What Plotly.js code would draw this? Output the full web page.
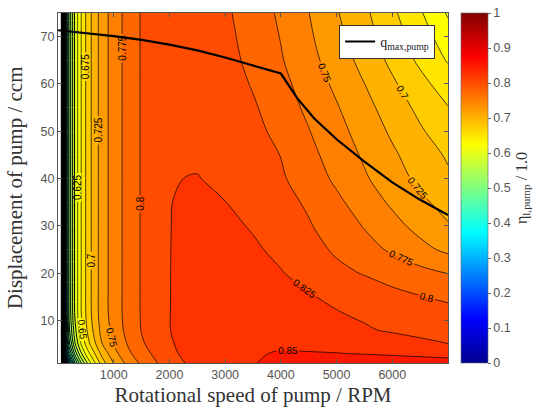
<!DOCTYPE html>
<html><head><meta charset="utf-8">
<script src="https://cdn.plot.ly/plotly-3.0.1.min.js"></script>
<style>html,body{margin:0;padding:0;background:#fff}#chart{width:544px;height:412px}</style>
</head><body><div id="chart"></div>
<script>
// Rotational speed of pump (RPM) grid
const speedRPM = [50, 100, 150, 200, 300, 400, 500, 600, 800, 1000, 1200, 1500,
                  2000, 2500, 3000, 3500, 4000, 4500, 5000, 5500, 6000, 6500, 7000];
// Displacement of pump (ccm) grid
const displacementCcm = [1, 3, 5, 8, 12, 16, 20, 25, 30, 35, 40, 45, 50, 55, 60, 65, 70, 75];
// Pump efficiency, one row per displacement value
const effY1  = [0.00, 0.12, 0.252, 0.352, 0.47, 0.54, 0.59, 0.63, 0.69, 0.726, 0.751, 0.78, 0.815, 0.833, 0.842, 0.8495, 0.853, 0.856, 0.857, 0.8565, 0.856, 0.855, 0.854];
const effY3  = [0.00, 0.202, 0.352, 0.44, 0.53, 0.59, 0.63, 0.66, 0.71, 0.74, 0.765, 0.79, 0.820, 0.836, 0.844, 0.8485, 0.8512, 0.8508, 0.8503, 0.8495, 0.8485, 0.8475, 0.8465];
const effY5  = [0.00, 0.26, 0.41, 0.49, 0.57, 0.62, 0.655, 0.683, 0.726, 0.751, 0.772, 0.797, 0.822, 0.839, 0.845, 0.8465, 0.8475, 0.847, 0.8463, 0.842, 0.837, 0.831, 0.8255];
const effY8  = [0.00, 0.29, 0.44, 0.52, 0.59, 0.638, 0.67, 0.695, 0.736, 0.757, 0.778, 0.801, 0.8245, 0.8385, 0.843, 0.843, 0.8415, 0.8385, 0.8335, 0.8275, 0.822, 0.8175, 0.8135];
const effY12 = [0.00, 0.302, 0.452, 0.53, 0.602, 0.645, 0.676, 0.701, 0.74, 0.76, 0.78, 0.802, 0.8245, 0.838, 0.8405, 0.839, 0.836, 0.832, 0.8255, 0.8205, 0.8155, 0.811, 0.806];
const effY16 = [0.00, 0.302, 0.452, 0.53, 0.602, 0.645, 0.676, 0.701, 0.74, 0.76, 0.78, 0.802, 0.8245, 0.837, 0.838, 0.835, 0.830, 0.8252, 0.8175, 0.811, 0.8035, 0.7975, 0.792];
const effY20 = [0.00, 0.302, 0.452, 0.53, 0.602, 0.645, 0.676, 0.701, 0.74, 0.76, 0.78, 0.802, 0.8245, 0.836, 0.836, 0.832, 0.826, 0.8185, 0.806, 0.7985, 0.7905, 0.7825, 0.7745];
const effY25 = [0.00, 0.302, 0.452, 0.53, 0.602, 0.645, 0.676, 0.701, 0.74, 0.76, 0.78, 0.802, 0.8245, 0.834, 0.832, 0.8275, 0.821, 0.8085, 0.7965, 0.7835, 0.7715, 0.7575, 0.7445];
const effY30 = [0.00, 0.302, 0.452, 0.53, 0.602, 0.645, 0.676, 0.701, 0.74, 0.76, 0.78, 0.802, 0.8245, 0.832, 0.829, 0.8235, 0.813, 0.802, 0.7885, 0.7735, 0.758, 0.742, 0.727];
const effY35 = [0.00, 0.302, 0.452, 0.53, 0.602, 0.645, 0.676, 0.701, 0.74, 0.76, 0.78, 0.802, 0.8245, 0.829, 0.8252, 0.8175, 0.808, 0.7965, 0.780, 0.763, 0.746, 0.730, 0.716];
const effY40 = [0.00, 0.302, 0.452, 0.53, 0.602, 0.645, 0.676, 0.701, 0.74, 0.76, 0.78, 0.802, 0.8245, 0.8255, 0.822, 0.813, 0.803, 0.788, 0.7705, 0.753, 0.736, 0.719, 0.704];
const effY45 = [0.00, 0.302, 0.452, 0.53, 0.602, 0.645, 0.676, 0.701, 0.74, 0.76, 0.78, 0.802, 0.822, 0.823, 0.820, 0.811, 0.7995, 0.782, 0.764, 0.7465, 0.729, 0.712, 0.697];
const effY50 = [0.00, 0.302, 0.452, 0.53, 0.602, 0.645, 0.676, 0.701, 0.74, 0.76, 0.78, 0.802, 0.821, 0.822, 0.818, 0.807, 0.793, 0.776, 0.758, 0.740, 0.721, 0.703, 0.686];
const effY55 = [0.00, 0.302, 0.452, 0.53, 0.602, 0.645, 0.676, 0.701, 0.74, 0.76, 0.78, 0.802, 0.820, 0.820, 0.815, 0.803, 0.787, 0.770, 0.752, 0.733, 0.713, 0.694, 0.676];
const effY60 = [0.00, 0.302, 0.452, 0.53, 0.602, 0.645, 0.676, 0.701, 0.74, 0.76, 0.78, 0.802, 0.818, 0.817, 0.812, 0.798, 0.782, 0.764, 0.745, 0.7252, 0.704, 0.683, 0.662];
const effY65 = [0.00, 0.302, 0.452, 0.53, 0.602, 0.645, 0.676, 0.701, 0.74, 0.76, 0.78, 0.802, 0.816, 0.814, 0.808, 0.794, 0.777, 0.758, 0.738, 0.717, 0.694, 0.670, 0.648];
const effY70 = [0.00, 0.302, 0.452, 0.53, 0.602, 0.645, 0.676, 0.701, 0.74, 0.76, 0.78, 0.802, 0.814, 0.812, 0.806, 0.791, 0.774, 0.754, 0.732, 0.710, 0.687, 0.662, 0.636];
const effY75 = [0.00, 0.302, 0.452, 0.53, 0.602, 0.645, 0.676, 0.701, 0.74, 0.76, 0.78, 0.802, 0.812, 0.810, 0.804, 0.788, 0.771, 0.7505, 0.727, 0.705, 0.680, 0.653, 0.622];
const efficiency = [effY1, effY3, effY5, effY8, effY12, effY16, effY20, effY25, effY30, effY35,
                    effY40, effY45, effY50, effY55, effY60, effY65, effY70, effY75];

// Maximum pump displacement curve
const qmaxSpeed = [0, 500, 1000, 1500, 2000, 2500, 3000, 3500, 4000, 4300, 4600, 5000, 5500, 6000, 6500, 7000];
const qmaxDisp  = [71.35, 70.8, 70.1, 69.3, 68.3, 67.1, 65.6, 63.9, 62.2, 56.9, 52.7, 48.3, 43.6, 39.2, 35.5, 32.3];

const xTicks = [1000, 2000, 3000, 4000, 5000, 6000];
const yTicks = [10, 20, 30, 40, 50, 60, 70];
const cbTicks = [0, 0.1, 0.2, 0.3, 0.4, 0.5, 0.6, 0.7, 0.8, 0.9, 1];
const cbTickText = ['0', '0.1', '0.2', '0.3', '0.4', '0.5', '0.6', '0.7', '0.8', '0.9', '1'];

const jet = [[0, '#00008f'], [0.125, '#0000ff'], [0.375, '#00ffff'], [0.625, '#ffff00'], [0.875, '#ff0000'], [1, '#800000']];

const serif = 'Liberation Serif, Times New Roman, serif';
const sans = 'Liberation Sans, Arial, sans-serif';

const traces = [
  { // filled bands
    type: 'contour',
    x: speedRPM, y: displacementCcm, z: efficiency,
    colorscale: jet,
    autocontour: false,
    contours: {start: 0.025, end: 1.0, size: 0.025, coloring: 'fill', showlines: false},
    line: {width: 0, smoothing: 1},
    showscale: false, showlegend: false, hoverinfo: 'skip'
  },
  { // dense low-efficiency iso-lines
    type: 'contour',
    x: speedRPM, y: displacementCcm, z: efficiency,
    autocontour: false,
    contours: {start: 0.025, end: 0.6, size: 0.025, coloring: 'none', showlabels: false},
    line: {color: '#000', width: 1, smoothing: 1},
    showscale: false, showlegend: false, hoverinfo: 'skip'
  },
  { // labelled iso-lines
    type: 'contour',
    x: speedRPM, y: displacementCcm, z: efficiency,
    autocontour: false,
    contours: {start: 0.625, end: 0.875, size: 0.025, coloring: 'none', showlabels: true,
               labelfont: {family: sans, size: 10, color: '#000'}, labelformat: '.3~g'},
    line: {color: '#000', width: 0.7, smoothing: 1},
    showscale: false, showlegend: false, hoverinfo: 'skip'
  },
  {
    type: 'scatter', mode: 'lines',
    x: qmaxSpeed, y: qmaxDisp,
    name: 'q<sub>max,pump</sub>',
    line: {color: '#000', width: 2.2},
    showlegend: true
  },
  {
    type: 'scatter', mode: 'markers',
    x: [null, null], y: [null, null],
    showlegend: false, hoverinfo: 'skip',
    marker: {
      color: [0, 1], cmin: 0, cmax: 1, colorscale: jet, showscale: true,
      colorbar: {
        x: 1.033, xanchor: 'left', y: 0.5, yanchor: 'middle',
        len: 1, lenmode: 'fraction', thickness: 27, thicknessmode: 'pixels',
        xpad: 0, ypad: 0, outlinewidth: 0.6, outlinecolor: '#666',
        tickmode: 'array', tickvals: cbTicks, ticktext: cbTickText,
        ticks: 'outside', ticklen: 3, tickcolor: '#666',
        tickfont: {family: sans, size: 12.5, color: '#555'},
        title: {text: 'η<sub>l,pump</sub> / 1.0', side: 'right', font: {family: serif, size: 16, color: '#333'}}
      }
    }
  }
];

const layout = {
  width: 544, height: 412,
  margin: {l: 58, r: 94, t: 13, b: 49, pad: 0},
  paper_bgcolor: '#fff', plot_bgcolor: '#fff',
  font: {family: sans, size: 12.5, color: '#555'},
  showlegend: true,
  legend: {x: 0.967, xanchor: 'right', y: 0.966, yanchor: 'top',
           bgcolor: '#fff', bordercolor: '#333', borderwidth: 1,
           font: {family: serif, size: 14, color: '#222'}, tracegroupgap: 0},
  xaxis: {
    range: [0, 7000], tickmode: 'array', tickvals: xTicks,
    ticks: 'inside', ticklen: 4, tickcolor: '#555',
    showline: true, mirror: 'ticks', linecolor: '#555', linewidth: 1,
    showgrid: false, zeroline: false, layer: 'above traces',
    tickfont: {family: sans, size: 12.5, color: '#555'},
    title: {text: 'Rotational speed of pump / RPM', font: {family: serif, size: 21, color: '#333'}, standoff: 6}
  },
  yaxis: {
    range: [1, 75], tickmode: 'array', tickvals: yTicks,
    ticks: 'inside', ticklen: 4, tickcolor: '#555',
    showline: true, mirror: 'ticks', linecolor: '#555', linewidth: 1,
    showgrid: false, zeroline: false, layer: 'above traces',
    tickfont: {family: sans, size: 12.5, color: '#555'}
  },
  annotations: [{
    text: 'Displacement of pump / ccm', textangle: -90,
    xref: 'paper', yref: 'paper', x: -0.11, y: 0.5, xanchor: 'center', yanchor: 'middle',
    showarrow: false, font: {family: serif, size: 21, color: '#333'}
  }]
};

Plotly.newPlot('chart', traces, layout, {staticPlot: true, displayModeBar: false});
</script>
</body></html>
